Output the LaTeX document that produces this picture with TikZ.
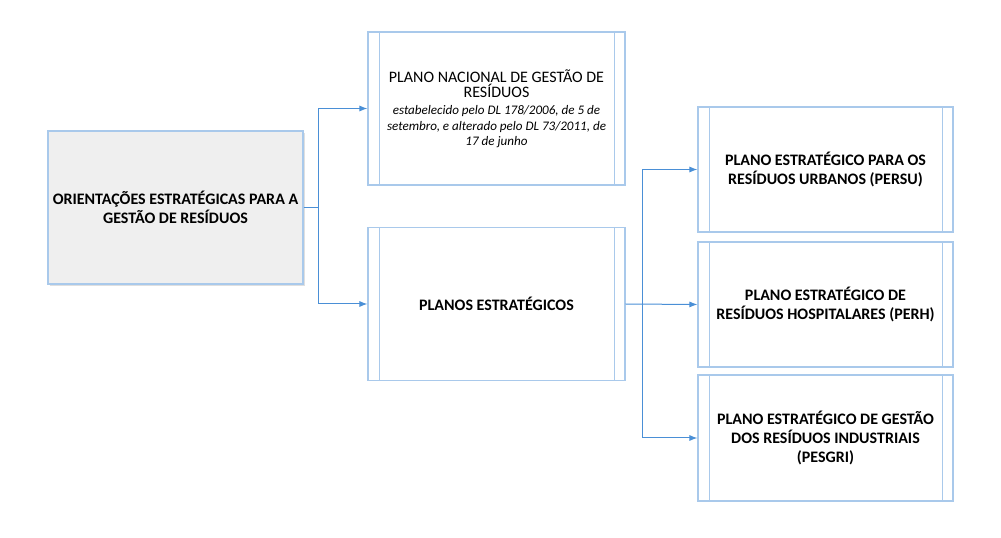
\documentclass[tikz,border=0pt]{standalone}
\usepackage{fontspec}
\setmainfont{Carlito}
\usepackage{xcolor}
\usepackage{tikz}
\usetikzlibrary{arrows.meta,shadows}

\newcommand{\subtxt}[1]{{\fontsize{9.8}{11}\selectfont\itshape #1}}

\begin{document}
\begin{tikzpicture}[x = 0.75pt,
                    y = -0.75pt,
                    font = \fontsize{12}{11.5}\selectfont]

  \useasboundingbox (0,0) rectangle (1001,538);

  % COLORS
  \definecolor{boxline}{RGB}{169,201,235}
  \definecolor{boxfill}{RGB}{239,239,239}
  \definecolor{arrowline}{RGB}{74,143,214}

  % BOXES STYLE
  \tikzstyle{planbox} = [draw=boxline, line width=0.8pt, fill=white, align=center,
                         inner sep=0pt, minimum width=191.25pt, minimum height=114.75pt]
  \tikzstyle{boldtxt} = [font=\fontsize{12}{14}\selectfont\bfseries]
  \tikzstyle{orientbox} = [planbox, boldtxt, fill=boxfill, drop shadow={shadow xshift=1.5pt,
                           shadow yshift=-1.5pt, opacity=0.25}]
  \tikzstyle{conn} = [draw=arrowline, line width=0.75pt]
  \tikzstyle{connarrow} = [conn, -{Latex[length=6pt,width=4.5pt]}]


  % NODES
  \node[orientbox] (orient) at (175.5,207.5)
    {ORIENTAÇÕES ESTRATÉGICAS PARA A\\GESTÃO DE RESÍDUOS};

  \node[planbox, minimum width=192.75pt] (pnac) at (496.5,108.5)
    {PLANO NACIONAL DE GESTÃO DE\\RESÍDUOS\\[1.5pt]
     \subtxt{estabelecido pelo DL 178/2006, de 5 de}\\
     \subtxt{setembro, e alterado pelo DL 73/2011, de}\\
     \subtxt{17 de junho}};

  \node[planbox, boldtxt, minimum width=192.75pt] (pest) at (496.5,304)
    {PLANOS ESTRATÉGICOS};

  \node[planbox, boldtxt, minimum height=93.75pt] (persu) at (825.5,169.5)
    {PLANO ESTRATÉGICO PARA OS\\RESÍDUOS URBANOS (PERSU)};

  \node[planbox, boldtxt, minimum height=93.75pt] (perh) at (825.5,304.5)
    {PLANO ESTRATÉGICO DE\\RESÍDUOS HOSPITALARES (PERH)};

  \node[planbox, boldtxt, minimum height=94.5pt] (pesgri) at (825.5,438)
    {PLANO ESTRATÉGICO DE GESTÃO\\DOS RESÍDUOS INDUSTRIAIS\\(PESGRI)};


  % INNER LINES
  \foreach \n in {pnac,pest,persu,perh,pesgri}{
    \draw[boxline, line width=0.8pt] ([xshift=9pt]\n.north west) -- ([xshift=9pt]\n.south west);
    \draw[boxline, line width=0.8pt] ([xshift=-8.5pt]\n.north east) -- ([xshift=-8.5pt]\n.south east);
  }


  % CONNECTORS
  \coordinate (j1) at (318,207.5);
  \coordinate (j2) at (642,304);

  \draw[conn] (orient.east) -- (j1);
  \draw[connarrow] (j1) |- (pnac.west);
  \draw[connarrow] (j1) |- (pest.west);

  \draw[connarrow] (pest.east) -- (perh.west);
  \draw[connarrow] (j2) |- (persu.west);
  \draw[connarrow] (j2) |- (pesgri.west);

\end{tikzpicture}
\end{document}
